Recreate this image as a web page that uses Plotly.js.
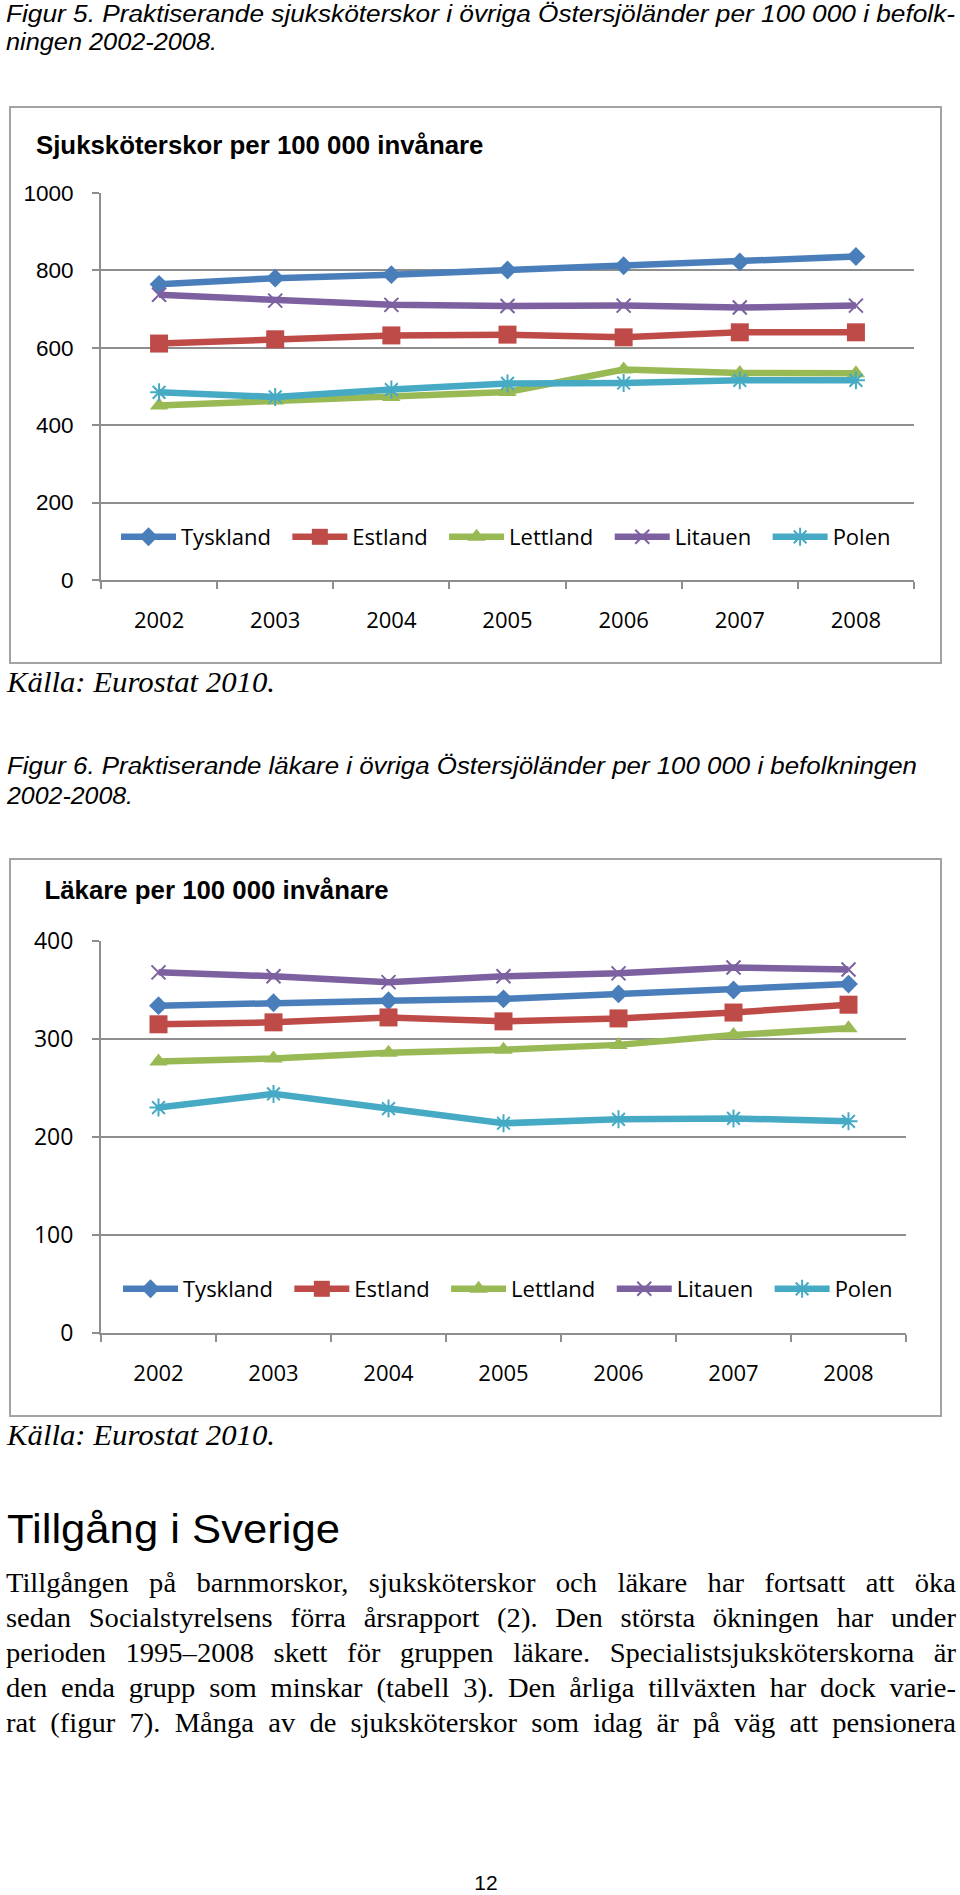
<!DOCTYPE html>
<html><head><meta charset="utf-8">
<script src="https://cdn.plot.ly/plotly-3.0.1.min.js"></script>
<style>
html,body{margin:0;padding:0;background:#fff;}
#page{position:relative;width:960px;height:1895px;overflow:hidden;background:#fff;}
.box{position:absolute;border:2px solid #a3a3a3;background:#fff;}
.txt{position:absolute;line-height:1;color:#000;transform-origin:0 0;}
</style></head><body>
<div id="page">
  <div id="chart1" class="box" style="left:9px;top:106px;width:929px;height:554px"></div>
  <div id="chart2" class="box" style="left:9px;top:858px;width:929px;height:555px"></div>
</div>
<script>
// ---------- data ----------
const years = ['2002','2003','2004','2005','2006','2007','2008'];
const countries = ['Tyskland','Estland','Lettland','Litauen','Polen'];

// Figur 5: sjuksköterskor per 100 000 invånare
const nurseTyskland = [764, 780, 789, 801, 812, 822, 836];
const nurseEstland  = [611, 622, 632, 634, 627, 640, 640];
const nurseLettland = [451, 464, 473, 486, 544, 535, 534];
const nurseLitauen  = [737, 722, 711, 708, 709, 704, 709];
const nursePolen    = [485, 473, 492, 508, 509, 516, 516];

// Figur 6: läkare per 100 000 invånare
const docTyskland = [334, 337, 339, 341, 346, 350, 356];
const docEstland  = [315, 317, 322, 318, 321, 327, 335];
const docLettland = [277, 280, 286, 289, 294, 304, 311];
const docLitauen  = [368, 364, 358, 364, 367, 373, 371];
const docPolen    = [230, 244, 229, 214, 218, 219, 216];

const nurseTicks = [0, 200, 400, 600, 800, 1000];
const docTicks = [0, 100, 200, 300, 400];

const chart1Title = 'Sjuksköterskor per 100 000 invånare';
const chart2Title = 'Läkare per 100 000 invånare';

// ---------- styles ----------
const styles = {
  Tyskland: {color:'#4a7ebb', symbol:'diamond', size:14.5},
  Estland:  {color:'#be4b48', symbol:'square', size:18},
  Lettland: {color:'#98b954', symbol:'triangle-up', size:16},
  Litauen:  {color:'#7d60a0', symbol:'x-thin-open', size:14},
  Polen:    {color:'#46aac5', symbol:'asterisk-open', size:15}
};
const NB = '\u00a0\u00a0';

function makeTraces(seriesList){
  return countries.map((c,i)=>{
    const st = styles[c];
    const thin = st.symbol.indexOf('open')>=0;
    return {
      type:'scatter', mode:'lines+markers', name:c+NB, x:years, y:seriesList[i],
      line:{color:st.color, width:6.5},
      marker:{symbol:st.symbol, size:st.size, color:st.color,
              line:{width: thin?2:0, color:st.color}},
      hoverinfo:'skip'
    };
  });
}

const gridCol = '#8e8e8e';
function makeLayout(o){
  return {
    width:929, height:o.h,
    margin:{l:90, r:o.r, t:o.t, b:o.b, pad:0, autoexpand:false},
    paper_bgcolor:'#fff', plot_bgcolor:'#fff',
    showlegend:true,
    title:{text:o.title, x:o.tx/929, xref:'container', xanchor:'left',
           y:1-o.ty/o.h, yref:'container', yanchor:'middle', automargin:false,
           font:{family:'Liberation Sans, Arial', size:25.8, weight:700, color:'#000'}},
    xaxis:{type:'category', categoryorder:'array', categoryarray:years,
           range:[-0.5, 6.5], showgrid:false, zeroline:false, automargin:false,
           showline:true, linecolor:gridCol, linewidth:2,
           ticks:'outside', tickson:'boundaries', ticklen:7, tickwidth:2, tickcolor:gridCol,
           tickfont:{family:'Open Sans', size:22, color:'#000'}, ticklabelstandoff:20,
           fixedrange:true},
    yaxis:{range:o.yr, tickvals:o.ticks, ticktext:o.ticks.map(String), automargin:false,
           showgrid:true, gridcolor:gridCol, gridwidth:2, zeroline:false,
           showline:true, linecolor:gridCol, linewidth:2,
           ticks:'outside', ticklen:7, tickwidth:2, tickcolor:gridCol,
           tickfont:o.yfont, ticklabelstandoff:o.ystand, fixedrange:true},
    legend:{orientation:'h', x:o.lx/929, xref:'container', xanchor:'left',
            y:1-o.ly/o.h, yref:'container', yanchor:'middle',
            itemwidth:55, bgcolor:'rgba(0,0,0,0)', borderwidth:0,
            font:{family:'Open Sans', size:22, color:'#000'}, traceorder:'normal'}
  };
}

const cfg = {staticPlot:true, displayModeBar:false};

Plotly.newPlot('chart1',
  makeTraces([nurseTyskland, nurseEstland, nurseLettland, nurseLitauen, nursePolen]),
  makeLayout({h:554, r:26, t:85, b:82, title:chart1Title, tx:25, ty:37,
              yr:[0,1000], ticks:nurseTicks, lx:105, ly:429,
              yfont:{family:'Liberation Sans, Arial', size:22.5, color:'#000'}, ystand:14}),
  cfg);

Plotly.newPlot('chart2',
  makeTraces([docTyskland, docEstland, docLettland, docLitauen, docPolen]),
  makeLayout({h:555, r:34, t:81, b:82, title:chart2Title, tx:33.5, ty:30,
              yr:[0,400], ticks:docTicks, lx:107, ly:429,
              yfont:{family:'Open Sans', size:23, color:'#000'}, ystand:14}),
  cfg);

// ---------- page text ----------
const page = document.getElementById('page');
function placeLine(o){
  const d = document.createElement('div');
  d.className = 'txt';
  d.style.fontFamily = o.family;
  d.style.fontSize = o.size + 'px';
  d.style.fontStyle = o.italic ? 'italic' : 'normal';
  d.style.whiteSpace = 'nowrap';
  d.style.display = 'inline-block';
  d.textContent = o.text;
  page.appendChild(d);
  const nat = d.getBoundingClientRect().width;
  const probe = document.createElement('span');
  probe.style.cssText = 'display:inline-block;width:0;height:0;vertical-align:baseline';
  d.appendChild(probe);
  const base = probe.offsetTop;
  d.removeChild(probe);
  let s;
  if (o.justify){
    s = Math.min(o.stretch || 1, (o.width - 1) / nat);
    d.style.whiteSpace = 'normal';
    d.style.display = 'block';
    d.style.width = (o.width / s) + 'px';
    d.style.textAlign = 'justify';
    d.style.textAlignLast = 'justify';
  } else if (o.width){
    s = o.width / nat;
  } else {
    s = o.stretch || 1;
  }
  d.style.transform = 'scaleX(' + s + ')';
  const left = o.center ? o.x - nat * s / 2 : o.x;
  d.style.left = left + 'px';
  d.style.top = (o.baseline - base) + 'px';
}

const sans = "'Liberation Sans', Arial, sans-serif";
const serif = "'Liberation Serif', 'Times New Roman', serif";

const captionLines = [
  {text:'Figur 5. Praktiserande sjuksköterskor i övriga Östersjöländer per 100 000 i befolk-', x:6, baseline:22, width:949},
  {text:'ningen 2002-2008.', x:6, baseline:50, width:211},
  {text:'Figur 6. Praktiserande läkare i övriga Östersjöländer per 100 000 i befolkningen', x:7, baseline:774, width:910},
  {text:'2002-2008.', x:7, baseline:804, width:126}
];
captionLines.forEach(c=>placeLine(Object.assign({family:sans, size:23.5, italic:true}, c)));

const sourceText = 'Källa: Eurostat 2010.';
placeLine({text:sourceText, family:serif, size:29, italic:true, x:7, baseline:692, width:268});
placeLine({text:sourceText, family:serif, size:29, italic:true, x:7, baseline:1445, width:268});

placeLine({text:'Tillgång i Sverige', family:sans, size:40, x:7, baseline:1543, width:333});

const bodyLines = [
  'Tillgången på barnmorskor, sjuksköterskor och läkare har fortsatt att öka',
  'sedan Socialstyrelsens förra årsrapport (2). Den största ökningen har under',
  'perioden 1995–2008 skett för gruppen läkare. Specialistsjuksköterskorna är',
  'den enda grupp som minskar (tabell 3). Den årliga tillväxten har dock varie-',
  'rat (figur 7). Många av de sjuksköterskor som idag är på väg att pensionera'
];
const bodyBaselines = [1592, 1627, 1662, 1697, 1732];
bodyLines.forEach((t,i)=>placeLine({text:t, family:serif, size:26.7, x:6, baseline:bodyBaselines[i],
  width:950, justify:true, stretch:1.07}));

placeLine({text:'12', family:sans, size:21, x:486, baseline:1890, center:true});
</script>
</body></html>
